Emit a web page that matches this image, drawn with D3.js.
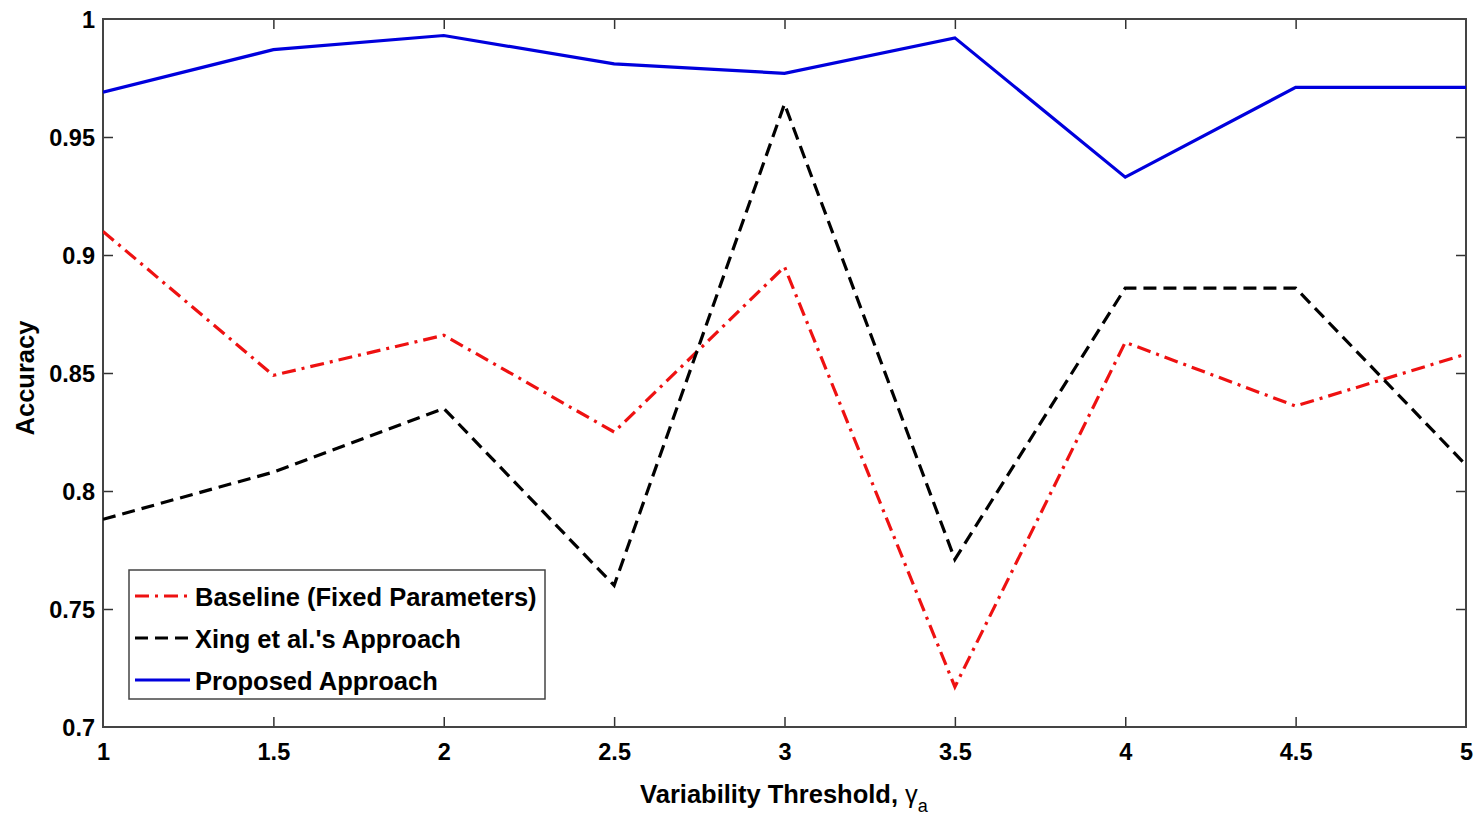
<!DOCTYPE html>
<html><head><meta charset="utf-8">
<script src="https://cdn.jsdelivr.net/npm/d3@7"></script>
<style>body{margin:0;background:#fff}svg{display:block}text{font-family:"Liberation Sans",Arial,sans-serif;font-weight:bold}</style>
</head><body><svg id="c" width="1474" height="815"></svg>
<script>
const thresholds = [1, 1.5, 2, 2.5, 3, 3.5, 4, 4.5, 5];
const baseline = [0.910, 0.849, 0.866, 0.825, 0.895, 0.717, 0.863, 0.836, 0.858];
const xing = [0.788, 0.808, 0.835, 0.760, 0.964, 0.771, 0.886, 0.886, 0.811];
const proposed = [0.969, 0.987, 0.993, 0.981, 0.977, 0.992, 0.933, 0.971, 0.971];
const xTicks = [1, 1.5, 2, 2.5, 3, 3.5, 4, 4.5, 5];
const yTicks = [0.7, 0.75, 0.8, 0.85, 0.9, 0.95, 1];
const seriesNames = ["Baseline (Fixed Parameters)", "Xing et al.'s Approach", "Proposed Approach"];

const L = 103, R = 1466, T = 19, B = 727;
const svg = d3.select("#c");
const x = d3.scaleLinear().domain([1, 5]).range([L, R]);
const y = d3.scaleLinear().domain([0.7, 1]).range([B, T]);

const fmt = d => String(d);
const gB = svg.append("g").attr("transform", `translate(0,${B})`)
  .call(d3.axisBottom(x).tickValues(xTicks).tickFormat(fmt).tickSizeInner(-10).tickSizeOuter(0).tickPadding(16));
const gT = svg.append("g").attr("transform", `translate(0,${T})`)
  .call(d3.axisTop(x).tickValues(xTicks).tickFormat("").tickSizeInner(-10).tickSizeOuter(0));
const gL = svg.append("g").attr("transform", `translate(${L},0)`)
  .call(d3.axisLeft(y).tickValues(yTicks).tickFormat(fmt).tickSizeInner(-10).tickSizeOuter(0).tickPadding(8));
const gR = svg.append("g").attr("transform", `translate(${R},0)`)
  .call(d3.axisRight(y).tickValues(yTicks).tickFormat("").tickSizeInner(-10).tickSizeOuter(0));
[gB, gT, gL, gR].forEach(g => {
  g.select(".domain").remove();
  g.selectAll(".tick line").attr("stroke", "#333").attr("stroke-width", 1.5);
  g.selectAll("text").attr("font-size", 23.5).attr("fill", "#000")
   .style("font-family", '"Liberation Sans",Arial,sans-serif').style("font-weight", "bold");
});
svg.selectAll(".tick").filter(d => d === 1 || d === 5 || d === 0.7).select("line").remove();
gB.selectAll(".tick text").attr("dy", "0.71em");
gL.selectAll(".tick text").attr("dy", "0.36em");

svg.append("rect").attr("x", L).attr("y", T).attr("width", R - L).attr("height", B - T)
  .attr("fill", "none").attr("stroke", "#444").attr("stroke-width", 2);

const line = d3.line().x((d, i) => x(thresholds[i])).y(d => y(d));
const styles = [
  {data: baseline, color: "#ee1111", dash: "14,6,3,6"},
  {data: xing, color: "#000000", dash: "13,7"},
  {data: proposed, color: "#0000dd", dash: null}
];
svg.append("clipPath").attr("id", "pc").append("rect")
  .attr("x", L).attr("y", T - 3).attr("width", R - L).attr("height", B - T + 6);
styles.forEach(s => {
  svg.append("path").attr("d", line(s.data)).attr("fill", "none")
    .attr("stroke", s.color).attr("stroke-width", 3.2)
    .attr("stroke-dasharray", s.dash).attr("clip-path", "url(#pc)");
});

const lg = svg.append("g");
lg.append("rect").attr("x", 129).attr("y", 570).attr("width", 416).attr("height", 129)
  .attr("fill", "#fff").attr("stroke", "#444").attr("stroke-width", 1.5);
styles.forEach((s, i) => {
  const yy = 597 + i * 42;
  lg.append("line").attr("x1", 135).attr("x2", 190).attr("y1", yy - 1).attr("y2", yy - 1)
    .attr("stroke", s.color).attr("stroke-width", 3.2).attr("stroke-dasharray", s.dash);
  lg.append("text").attr("x", 195).attr("y", yy).attr("dy", "0.36em")
    .attr("font-size", 25.5).text(seriesNames[i]);
});

const xl = svg.append("text").attr("x", 784).attr("y", 803).attr("text-anchor", "middle").attr("font-size", 25.5);
xl.append("tspan").text("Variability Threshold, ");
xl.append("tspan").text("γ").style("font-weight", "normal");
xl.append("tspan").text("a").attr("font-size", 18).attr("dy", 9).style("font-weight", "normal");
svg.append("text").attr("transform", "translate(34,378) rotate(-90)").attr("text-anchor", "middle")
  .attr("font-size", 25.5).text("Accuracy");
</script></body></html>
